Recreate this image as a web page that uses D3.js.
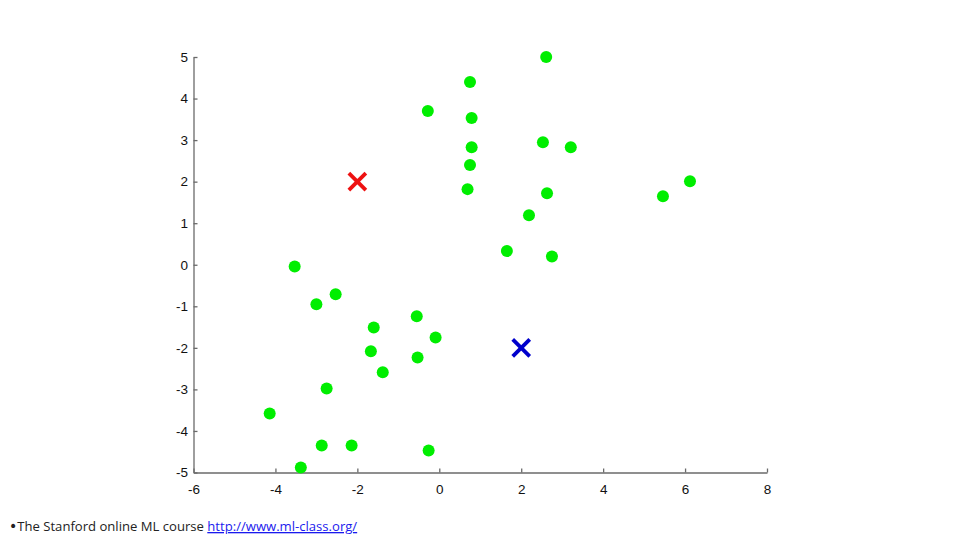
<!DOCTYPE html>
<html><head><meta charset="utf-8">
<script src="https://cdn.jsdelivr.net/npm/d3@7"></script>
<style>body{margin:0;background:#fff;} svg{display:block;}</style>
</head><body>
<svg id="chart" width="960" height="540"></svg>
<script>
const xTicks = [-6,-4,-2,0,2,4,6,8];
const yTicks = [-5,-4,-3,-2,-1,0,1,2,3,4,5];
const pointsX = [2.61,0.75,-0.28,0.79,0.79,2.53,3.21,0.75,0.69,2.63,5.46,6.12,2.19,1.65,2.75,-3.53,-2.53,-3.00,-1.60,-0.55,-0.09,-1.67,-0.53,-1.38,-2.75,-4.14,-2.87,-2.14,-0.26,-3.38];
const pointsY = [5.00,4.40,3.70,3.53,2.83,2.95,2.83,2.40,1.82,1.72,1.65,2.01,1.19,0.33,0.20,-0.04,-0.71,-0.95,-1.51,-1.24,-1.75,-2.08,-2.23,-2.59,-2.98,-3.58,-4.35,-4.35,-4.47,-4.88];
const centroidNames = ["red","blue"];
const centroidX = [-2, 2];
const centroidY = [2, -2];
const centroidColors = ["#ee1111","#0000cc"];
const footerText = "The Stanford online ML course ";
const footerLink = "http://www.ml-class.org/";

const svg = d3.select("#chart");
const x = d3.scaleLinear().domain([-6,8]).range([193.5,767]);
const y = d3.scaleLinear().domain([-5,5]).range([472.5,57]);

const xAxis = svg.append("g").attr("transform","translate(0,472.5)")
  .call(d3.axisBottom(x).tickValues(xTicks).tickFormat(d=>String(d)).tickSizeInner(-4).tickSizeOuter(0).tickPadding(12));
const yAxis = svg.append("g").attr("transform","translate(193.5,0)")
  .call(d3.axisLeft(y).tickValues(yTicks).tickFormat(d=>String(d)).tickSizeInner(-4).tickSizeOuter(0).tickPadding(5.5));
[xAxis,yAxis].forEach(a=>{
  a.select(".domain").attr("stroke","#6a6a6a").attr("stroke-width",1.3);
  a.selectAll(".tick line").attr("stroke","#6a6a6a").attr("stroke-width",1.3);
  a.selectAll("text").attr("fill","#111")
    .style("font-family","'Liberation Sans', Arial, sans-serif").style("font-size","13.5px");
});

const pts = pointsX.map((v,i)=>({x:v,y:pointsY[i]}));
svg.append("g").selectAll("circle").data(pts).join("circle")
  .attr("cx",d=>x(d.x)).attr("cy",d=>y(d.y)).attr("r",6).attr("fill","#00ee00");

const cents = centroidX.map((v,i)=>({x:v,y:centroidY[i],c:centroidColors[i]}));
const cg = svg.append("g").selectAll("g").data(cents).join("g")
  .attr("transform",d=>`translate(${x(d.x)},${y(d.y)})`);
const s = 8.5;
cg.append("line").attr("x1",-s).attr("y1",-s).attr("x2",s).attr("y2",s).attr("stroke",d=>d.c).attr("stroke-width",3.8);
cg.append("line").attr("x1",-s).attr("y1",s).attr("x2",s).attr("y2",-s).attr("stroke",d=>d.c).attr("stroke-width",3.8);

const t = svg.append("text").attr("x",9).attr("y",531)
  .attr("font-family","'Open Sans', Lato, sans-serif").attr("font-size",13.1).attr("fill","#222");
t.append("tspan").text("\u2022").attr("font-family","'DejaVu Sans', sans-serif").attr("font-size",14);
t.append("tspan").text(footerText);
t.append("tspan").text(footerLink).attr("fill","#1a1aee").attr("text-decoration","underline");
</script>
</body></html>
